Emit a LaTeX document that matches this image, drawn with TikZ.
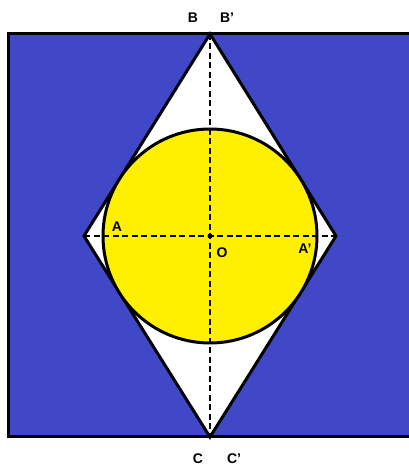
\documentclass[tikz,border=0pt]{standalone}
\usepackage{fontspec}
\setsansfont{Liberation Sans}
\usepackage{tikz}
\usetikzlibrary{positioning,calc}

\definecolor{bgblue}{RGB}{64,72,200}
\definecolor{discyellow}{RGB}{255,240,0}
\newcommand{\prm}{\char"27}

\begin{document}
\begin{tikzpicture}[
x=1pt, y=1pt,
outline/.style={draw=black, line width=3pt, line join=miter},
axis/.style={dash pattern=on 6pt off 3.5pt, line width=1.5pt},
lbl/.style={font=\sffamily\bfseries\fontsize{14}{16}\selectfont, inner sep=0pt}
]

\clip (0,0) rectangle (409,468);
\useasboundingbox (0,0) rectangle (409,468);

\coordinate (B) at (210,434);
\coordinate (C) at (210,31);
\coordinate (A) at (84,232);
\coordinate (Ap) at (336,232);
\coordinate (O) at (210,232);

\filldraw[outline, fill=bgblue] (8.5,31) rectangle (430,434.5);
\filldraw[outline, fill=white] (B) -- (Ap) -- (C) -- (A) -- cycle;
\filldraw[outline, fill=discyellow] (O) circle (107);

\draw[axis] (B) -- (C);
\draw[axis] (A) -- (Ap);
\fill (O) circle (2.5);

\node[lbl] (lB) at (193,450) {B};
\node[lbl] (lBp) at (227,450) {B\prm};
\node[lbl] (lA) at (117,241) {A};
\node[lbl] (lO) at (222,215) {O};
\node[lbl] (lAp) at (305,219) {A\prm};
\node[lbl] (lC) at (198,9) {C};
\node[lbl] (lCp) at (234,9) {C\prm};

\end{tikzpicture}
\end{document}
